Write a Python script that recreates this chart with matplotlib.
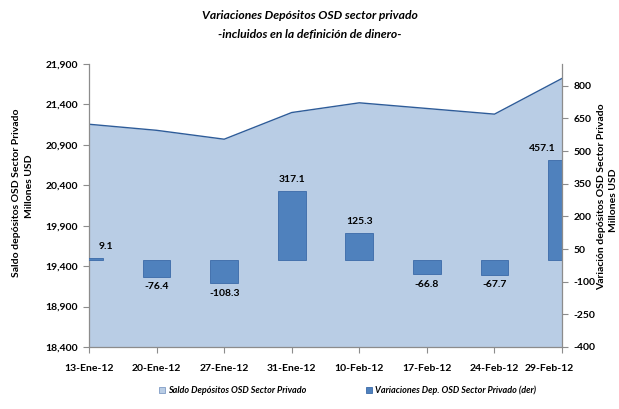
import matplotlib
matplotlib.use("Agg")
import matplotlib.pyplot as plt
import matplotlib.transforms as mtransforms
from matplotlib.patches import Patch
import numpy as np

plt.rcParams['font.family'] = ['Lato', 'DejaVu Sans']

fechas = ['13-Ene-12', '20-Ene-12', '27-Ene-12', '31-Ene-12', '10-Feb-12',
          '17-Feb-12', '24-Feb-12', '29-Feb-12']
saldo = [21155, 21080, 20970, 21300, 21420, 21350, 21280, 21722]
variacion = [9.1, -76.4, -108.3, 317.1, 125.3, -66.8, -67.7, 457.1]
left_ticks = [18400, 18900, 19400, 19900, 20400, 20900, 21400, 21900]
right_ticks = [-400, -250, -100, 50, 200, 350, 500, 650, 800]

area_color = '#B9CDE5'
line_color = '#2E5C99'
bar_color = '#4F81BD'
bar_edge = '#3B6AA8'
axis_color = '#8C8C8C'

fig = plt.figure(figsize=(6.19, 4.09), dpi=100)
ax1 = fig.add_axes([0.1438, 0.1516, 0.7642, 0.6919])
x = np.arange(len(fechas))

ax1.fill_between(x, left_ticks[0], saldo, color=area_color, lw=0)
ax1.plot(x, saldo, color=line_color, lw=1.0)
ax1.set_xlim(0, len(fechas) - 1)
ax1.set_ylim(left_ticks[0], left_ticks[-1])
ax1.set_yticks(left_ticks)
ax1.set_yticklabels([f'{v:,}' for v in left_ticks])
ax1.set_xticks(x)
ax1.set_xticklabels(fechas)

ax2 = ax1.twinx()
ax2.bar(x, variacion, width=0.41, color=bar_color, edgecolor=bar_edge, lw=0.6)
ax2.set_ylim(-400, 900)
ax2.set_yticks(right_ticks)
ax2.set_yticklabels([str(v) for v in right_ticks])
ax2.set_xlim(0, len(fechas) - 1)

for ax in (ax1, ax2):
    ax.spines['top'].set_visible(False)
    for s in ['left', 'right', 'bottom']:
        ax.spines[s].set_color(axis_color)
        ax.spines[s].set_linewidth(0.9)
    ax.tick_params(colors=axis_color, labelcolor='black', length=4, width=0.8,
                   labelsize=7.5)
ax2.spines['left'].set_visible(False)
ax2.spines['bottom'].set_visible(False)
ax1.spines['right'].set_visible(False)

for lab in ax1.get_xticklabels() + ax1.get_yticklabels() + ax2.get_yticklabels():
    lab.set_fontweight('bold')
ax1.tick_params(axis='x', pad=8)
ax1.tick_params(axis='y', pad=4)
ax2.tick_params(axis='y', pad=4)

# shift last x label to fit
last = ax1.get_xticklabels()[-1]
last.set_transform(last.get_transform() +
                   mtransforms.ScaledTranslation(-13 / 100, 0, fig.dpi_scale_trans))

# bar labels
n = len(variacion)
for i, v in enumerate(variacion):
    dx = 0
    if i == 0:
        dx = 12
    elif i == n - 1:
        dx = -14
    if v >= 0:
        ax2.annotate(f'{v:.1f}', (x[i], v), xytext=(dx, 5), textcoords='offset points',
                     ha='center', va='bottom', fontsize=7.5, fontweight='bold')
    else:
        ax2.annotate(f'{v:.1f}', (x[i], v), xytext=(dx, -4), textcoords='offset points',
                     ha='center', va='top', fontsize=7.5, fontweight='bold')

for xp, yp, txt in [(17, 193, 'Saldo depósitos OSD Sector Privado'),
                    (29, 186, 'Millones USD'),
                    (602, 197, 'Variación depósitos OSD Sector Privado'),
                    (613, 200, 'Millones USD')]:
    fig.text(xp / 619, 1 - yp / 409, txt, rotation=90, ha='center', va='center',
             fontsize=7.5, fontweight='bold')

fig.text(0.5, 0.962, 'Variaciones Depósitos OSD sector privado', ha='center', va='center',
         fontsize=8.7, fontweight='bold', style='italic')
fig.text(0.5, 0.915, '-incluidos en la definición de dinero-', ha='center', va='center',
         fontsize=8.7, fontweight='bold', style='italic')

handles = [Patch(facecolor=area_color, edgecolor='#7F9CC5', lw=0.6),
           Patch(facecolor=bar_color, edgecolor=bar_edge, lw=0.6)]
labels = ['Saldo Depósitos OSD Sector Privado', 'Variaciones Dep. OSD Sector Privado (der)']
fig.legend(handles, labels, loc='center', bbox_to_anchor=(0.561, 0.045), ncol=2,
           frameon=False, handlelength=0.7, handleheight=0.7, handletextpad=0.3,
           columnspacing=6.6, prop={'size': 6.5, 'weight': 'bold', 'style': 'italic'})

fig.savefig('out.png', dpi=100)
